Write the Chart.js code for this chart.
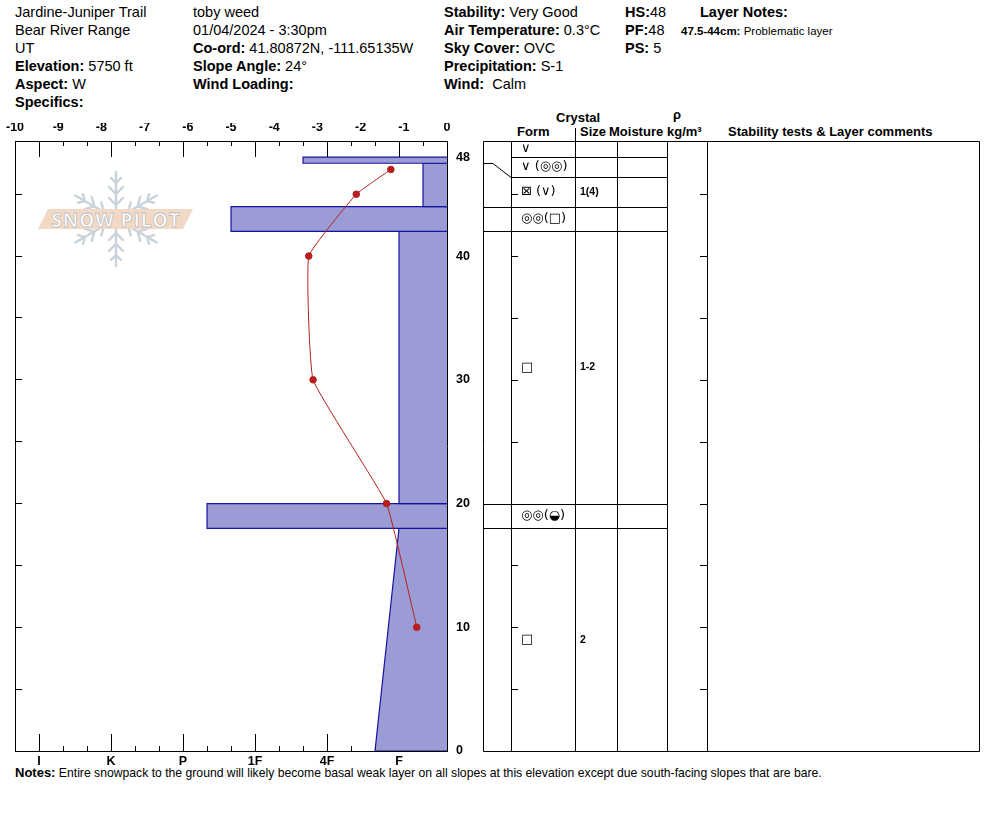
<!DOCTYPE html>
<html>
<head>
<meta charset="utf-8">
<script src="https://cdn.jsdelivr.net/npm/chart.js@4.4.1/dist/chart.umd.min.js"></script>
<style>
  body { margin: 0; background: #fff; }
  #page { position: relative; width: 994px; height: 840px; font-family: "Liberation Sans", Arial, sans-serif; color: #000; }
  #page canvas { position: absolute; left: 0; top: 0; z-index: 2; }
  #logo { position: absolute; left: 0; top: 0; z-index: 1; }
  .col { position: absolute; top: 3px; font-size: 14.5px; line-height: 18px; white-space: nowrap; }
  .hd { position: absolute; font-size: 13px; font-weight: bold; white-space: nowrap; line-height: 14px; }
  .small { font-size: 11.5px; }
  #notes { position: absolute; left: 15px; top: 765px; font-size: 12.2px; white-space: nowrap; }
  #notes b { font-size: 13px; }
</style>
</head>
<body>
<div id="page">
  <svg id="logo" width="994" height="840">
    <g transform="translate(116,219)" stroke="#c9d3db" stroke-width="2.4" fill="none" stroke-linecap="round">
      <g id="arm">
        <line x1="0" y1="0" x2="0" y2="-47"/>
        <polyline points="-7,-21 0,-14 7,-21"/>
        <polyline points="-7,-32 0,-25 7,-32"/>
        <polyline points="-5,-41 0,-36 5,-41"/>
      </g>
      <use href="#arm" transform="rotate(60)"/>
      <use href="#arm" transform="rotate(120)"/>
      <use href="#arm" transform="rotate(180)"/>
      <use href="#arm" transform="rotate(240)"/>
      <use href="#arm" transform="rotate(300)"/>
    </g>
    <polygon points="48,209 193,209 183,229 38,229" fill="#f2d9c6"/>
    <text x="116" y="227" text-anchor="middle" font-family="Open Sans, sans-serif" font-size="19" font-weight="bold"
          fill="#ffffff" stroke="#c0c0c0" stroke-width="0.8" letter-spacing="1">SNOW PILOT</text>
  </svg>
  <canvas id="profile" width="994" height="840"></canvas>

  <div class="col" style="left:15px">Jardine-Juniper Trail<br>Bear River Range<br>UT<br><b>Elevation:</b> 5750 ft<br><b>Aspect:</b> W<br><b>Specifics:</b></div>
  <div class="col" style="left:193px">toby weed<br>01/04/2024 - 3:30pm<br><b>Co-ord:</b> 41.80872N, -111.65135W<br><b>Slope Angle:</b> 24°<br><b>Wind Loading:</b></div>
  <div class="col" style="left:444px"><b>Stability:</b> Very Good<br><b>Air Temperature:</b> 0.3°C<br><b>Sky Cover:</b> OVC<br><b>Precipitation:</b> S-1<br><b>Wind:</b>&nbsp; Calm</div>
  <div class="col" style="left:625px"><b>HS:</b>48<br><b>PF:</b>48<br><b>PS:</b> 5</div>
  <div class="col" style="left:700px"><b>Layer Notes:</b></div>
  <div class="col small" style="left:681px;top:22px"><b>47.5-44cm:</b> Problematic layer</div>

  <div class="hd" style="left:556px;top:111px">Crystal</div>
  <div class="hd" style="left:517px;top:125px">Form</div>
  <div class="hd" style="left:580px;top:125px">Size</div>
  <div class="hd" style="left:609px;top:125px">Moisture</div>
  <div class="hd" style="left:673px;top:108px">ρ</div>
  <div class="hd" style="left:667px;top:125px">kg/m³</div>
  <div class="hd" style="left:728px;top:125px">Stability tests &amp; Layer comments</div>

  <div id="notes"><b>Notes:</b> Entire snowpack to the ground will likely become basal weak layer on all slopes at this elevation except due south-facing slopes that are bare.</div>
</div>

<script>
// hand hardness scale, one step per third of a class (F- .. I+)
var hardnessNames = ['', 'F-', 'F', 'F+', '4F-', '4F', '4F+', '1F-', '1F', '1F+', 'P-', 'P', 'P+', 'K-', 'K', 'K+', 'I-', 'I', 'I+'];
var hardnessMajor = [2, 5, 8, 11, 14, 17];
var hardnessMinor = [1, 3, 4, 6, 7, 9, 10, 12, 13, 15, 16];

// snow layers (cm from ground)
var layerTop = [48, 47.5, 44, 42, 20, 18];
var layerBottom = [47.5, 44, 42, 20, 18, 0];
var hardTop = ['4F+', 'F-', '1F+', 'F', 'P-', 'F'];
var hardBottom = ['4F+', 'F-', '1F+', 'F', 'P-', 'F+'];

// snow temperature profile
var tempDepth = [47, 45, 40, 30, 20, 10];
var tempValue = [-1.3, -2.1, -3.2, -3.1, -1.4, -0.7];
var tempTicks = [-10, -9, -8, -7, -6, -5, -4, -3, -2, -1, 0];

// depth axis
var depthMax = 49.3;
var depthTicks = [0, 5, 10, 15, 20, 25, 30, 35, 40, 45];
var depthLabels = [0, 10, 20, 30, 40, 48];

// crystal table rows (display depths) and their texts
var rowTop = [depthMax, 48, 46.4, 44, 42, 20, 18];
var rowBottom = [48, 46.4, 44, 42, 20, 18, 0];
var grainForm = ['∨', '∨ (◎◎)', '⊠ (∨)', '◎◎(□)', '□', '◎◎(◒)', '□'];
var grainSize = ['', '', '1(4)', '', '1-2', '', '2'];
var layerBreaks = [47.5, 44, 42, 20, 18];
var rowBreaks = [46.4, 44, 42, 20, 18];

function hard(name) {
    return hardnessNames.indexOf(name);
}

function setTicks(values) {
    return function (scale) {
        scale.ticks = values.map(function (v) { return {value: v}; });
    };
}

var layerSets = layerTop.map(function (top, i) {
    var bottom = layerBottom[i];
    return {
        data: [
            {x: 0, y: top},
            {x: hard(hardTop[i]), y: top},
            {x: hard(hardBottom[i]), y: bottom},
            {x: 0, y: bottom}
        ],
        xAxisID: 'xH',
        yAxisID: 'y',
        borderColor: '#1414a0',
        borderWidth: 1.2,
        backgroundColor: '#9b9bd5',
        fill: {value: 0},
        pointRadius: 0,
        tension: 0
    };
});

var tempSet = {
    data: tempDepth.map(function (d, i) { return {x: tempValue[i], y: d}; }),
    xAxisID: 'xT',
    yAxisID: 'y',
    borderColor: '#b81e1e',
    borderWidth: 1,
    backgroundColor: '#b81e1e',
    pointBackgroundColor: '#b81e1e',
    pointBorderColor: '#b81e1e',
    pointRadius: 3.3,
    fill: false,
    tension: 0.1
};

var tableCols = [483, 511, 575, 617, 667, 707, 979];

var crystalTable = {
    id: 'crystalTable',
    afterDraw: function (chart) {
        var ctx = chart.ctx,
            y = chart.scales.y,
            top = chart.chartArea.top,
            bottom = chart.chartArea.bottom,
            c = tableCols;

        ctx.save();
        ctx.strokeStyle = '#000';
        ctx.lineWidth = 1;
        ctx.beginPath();
        ctx.rect(c[0] + 0.5, Math.round(top) + 0.5, c[6] - c[0], Math.round(bottom - top));
        for (var k = 1; k < 6; k++) {
            ctx.moveTo(c[k] + 0.5, Math.round(top));
            ctx.lineTo(c[k] + 0.5, Math.round(bottom));
        }
        ctx.moveTo(c[2] + 0.5, top - 13);
        ctx.lineTo(c[2] + 0.5, top);

        // surface line
        var ys = Math.round(y.getPixelForValue(48)) + 0.5;
        ctx.moveTo(c[1], ys);
        ctx.lineTo(c[4], ys);

        rowBreaks.forEach(function (d, i) {
            var yr = Math.round(y.getPixelForValue(d)) + 0.5,
                yl = Math.round(y.getPixelForValue(layerBreaks[i])) + 0.5;
            ctx.moveTo(c[0], yl);
            if (yl !== yr) {
                ctx.lineTo(c[0] + 10, yl);
            }
            ctx.lineTo(c[1], yr);
            ctx.lineTo(c[4], yr);
        });

        depthTicks.forEach(function (d) {
            if (d === 0) return;
            var yt = Math.round(y.getPixelForValue(d)) + 0.5;
            ctx.moveTo(c[1], yt);
            ctx.lineTo(c[1] + 7, yt);
            ctx.moveTo(c[5] - 7, yt);
            ctx.lineTo(c[5], yt);
        });
        ctx.stroke();

        ctx.fillStyle = '#000';
        ctx.textBaseline = 'middle';
        ctx.textAlign = 'left';
        rowTop.forEach(function (t, i) {
            var ym = (y.getPixelForValue(t) + y.getPixelForValue(rowBottom[i])) / 2;
            ctx.font = '13px "DejaVu Sans"';
            ctx.fillText(grainForm[i], c[1] + 10, ym);
            ctx.font = 'bold 10.5px "Liberation Sans"';
            ctx.fillText(grainSize[i], c[2] + 5, ym);
        });
        ctx.restore();
    }
};

var black = '#000';
var labelFont = {family: '"Liberation Sans", Arial, sans-serif', size: 12.5, weight: 'bold'};

new Chart(document.getElementById('profile'), {
    type: 'line',
    data: {
        datasets: [tempSet].concat(layerSets)
    },
    options: {
        responsive: false,
        animation: false,
        devicePixelRatio: 1,
        indexAxis: 'y',
        layout: {padding: {left: 15, right: 507, top: 123, bottom: 69}},
        plugins: {
            legend: {display: false},
            tooltip: {enabled: false}
        },
        scales: {
            y: {
                type: 'linear', axis: 'y', position: 'left', min: 0, max: depthMax,
                afterBuildTicks: setTicks(depthTicks),
                afterFit: function (s) { s.width = 0; },
                ticks: {display: false},
                grid: {drawOnChartArea: false, tickLength: -7, color: black},
                border: {color: black}
            },
            yR: {
                type: 'linear', axis: 'y', position: 'right', min: 0, max: depthMax,
                afterBuildTicks: setTicks(depthTicks.concat([48])),
                afterFit: function (s) { s.width = 40; },
                ticks: {
                    color: black, font: labelFont, padding: 16,
                    autoSkip: false,
                    callback: function (v) { return depthLabels.indexOf(v) >= 0 ? String(v) : ''; }
                },
                grid: {drawOnChartArea: false, tickLength: -7, color: black},
                border: {color: black}
            },
            xH: {
                type: 'linear', axis: 'x', position: 'bottom', reverse: true, min: 0, max: 18, weight: 1,
                afterBuildTicks: setTicks(hardnessMajor),
                afterFit: function (s) { s.height = 20; },
                ticks: {
                    color: black, font: labelFont, padding: 20, autoSkip: false, maxRotation: 0,
                    callback: function (v) { return hardnessNames[v]; }
                },
                grid: {drawOnChartArea: false, tickLength: -17, color: black},
                border: {color: black}
            },
            xHs: {
                type: 'linear', axis: 'x', position: 'bottom', reverse: true, min: 0, max: 18, weight: 0,
                afterBuildTicks: setTicks(hardnessMinor),
                afterFit: function (s) { s.height = 0; },
                ticks: {display: false},
                grid: {drawOnChartArea: false, tickLength: -5, color: black},
                border: {display: false}
            },
            xHt: {
                type: 'linear', axis: 'x', position: 'top', reverse: true, min: 0, max: 18, weight: 0,
                afterBuildTicks: setTicks(hardnessMajor),
                afterFit: function (s) { s.height = 0; },
                ticks: {display: false},
                grid: {drawOnChartArea: false, tickLength: -16, color: black},
                border: {color: black}
            },
            xHts: {
                type: 'linear', axis: 'x', position: 'top', reverse: true, min: 0, max: 18, weight: 1,
                afterBuildTicks: setTicks(hardnessMinor),
                afterFit: function (s) { s.height = 0; },
                ticks: {display: false},
                grid: {drawOnChartArea: false, tickLength: -5, color: black},
                border: {display: false}
            },
            xT: {
                type: 'linear', axis: 'x', position: 'top', min: -10, max: 0, weight: 5,
                afterBuildTicks: setTicks(tempTicks),
                afterFit: function (s) { s.height = 18; },
                ticks: {color: black, font: labelFont, padding: 6, autoSkip: false, maxRotation: 0},
                grid: {display: false, drawTicks: false},
                border: {display: false}
            }
        }
    },
    plugins: [crystalTable]
});
</script>
</body>
</html>
